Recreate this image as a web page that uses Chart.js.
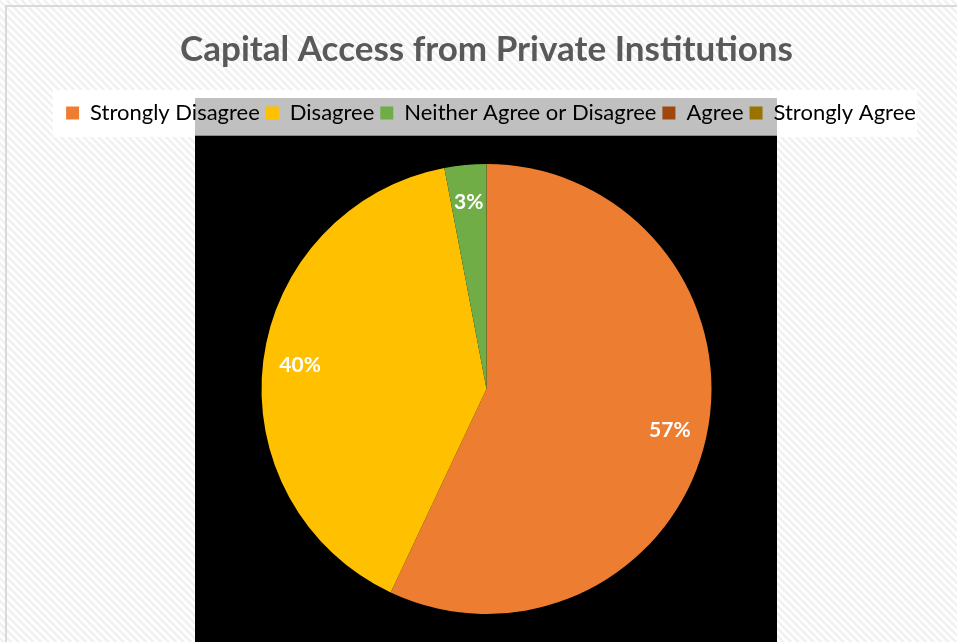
<!DOCTYPE html>
<html>
<head>
<meta charset="utf-8">
<title>Capital Access from Private Institutions</title>
<script src="https://cdn.jsdelivr.net/npm/chart.js@4"></script>
<style>
  html, body { margin: 0; padding: 0; background: #fff; overflow: hidden; }
  #wrap { position: relative; width: 957px; height: 646px; }
</style>
</head>
<body>
<div id="wrap"><canvas id="capitalChart" width="957" height="646"></canvas></div>
<script>
// --- Data ---
const categories = ['Strongly Disagree', 'Disagree', 'Neither Agree or Disagree', 'Agree', 'Strongly Agree'];
const shares = [57, 40, 3, 0, 0];
const sliceColors = ['#ED7D31', '#FFC000', '#70AD47', '#9E480E', '#997300'];
const chartTitle = 'Capital Access from Private Institutions';

const FONT = 'Lato, "Open Sans", sans-serif';
const LEGEND_SIZE = 22;
const LEGEND_PAD = 6;

// striped backdrop, frame, legend panel and the black plot panel
const backdrop = {
    id: 'backdrop',
    afterLayout(chart) {
        // nudge the legend row a little to the right
        chart.legend.left += 9;
    },
    beforeDraw(chart) {
        const c = chart.ctx;
        const w = chart.width, h = chart.height;
        c.save();
        c.fillStyle = '#ffffff';
        c.fillRect(0, 0, w, h);
        c.strokeStyle = '#f1f1f1';
        c.lineWidth = 2.5;
        c.beginPath();
        for (let k = -h; k < w + h; k += 7.5) {
            c.moveTo(k, 0);
            c.lineTo(k + h, h);
        }
        c.stroke();

        // frame
        c.strokeStyle = '#d9d9d9';
        c.lineWidth = 2;
        c.strokeRect(6, 6, w + 20, h + 20);

        // legend panel
        const lg = chart.legend;
        const ly = lg.top + LEGEND_PAD + LEGEND_SIZE / 2;
        c.fillStyle = '#ffffff';
        c.fillRect(53, ly - 23, 864, 47);

        // plot panel around the pie
        const arc = chart.getDatasetMeta(0).data[0];
        const cx = arc ? arc.x : (chart.chartArea.left + chart.chartArea.right) / 2;
        const left = Math.round(cx - 291.5), right = Math.round(cx + 290.5);
        c.fillStyle = '#c0c0c0';
        c.fillRect(left, ly - 15, right - left, 38);
        c.fillStyle = '#000000';
        c.fillRect(left, ly + 23, right - left, h);
        c.fillStyle = '#8a8a8a';
        c.fillRect(left, ly + 22, right - left, 1);
        c.restore();
    }
};

// percentage labels inside the slices
const sliceLabels = {
    id: 'sliceLabels',
    afterDatasetsDraw(chart) {
        const c = chart.ctx;
        const meta = chart.getDatasetMeta(0);
        const total = shares.reduce((a, b) => a + b, 0);
        c.save();
        c.font = 'bold 21px ' + FONT;
        c.fillStyle = '#ffffff';
        c.textAlign = 'center';
        c.textBaseline = 'middle';
        meta.data.forEach((arc, i) => {
            const v = shares[i];
            if (!v) return;
            const mid = (arc.startAngle + arc.endAngle) / 2;
            const r = arc.outerRadius * 0.835;
            c.fillText(Math.round(v / total * 100) + '%', arc.x + Math.cos(mid) * r, arc.y + Math.sin(mid) * r);
        });
        c.restore();
    }
};

const ctx = document.getElementById('capitalChart');
new Chart(ctx, {
    type: 'pie',
    data: {
        labels: categories,
        datasets: [{
            data: shares,
            backgroundColor: sliceColors,
            borderWidth: 0,
            radius: 225
        }]
    },
    options: {
        responsive: false,
        animation: false,
        maintainAspectRatio: false,
        layout: { padding: { left: 16, right: 0, top: 0, bottom: 2 } },
        plugins: {
            title: {
                display: true,
                text: chartTitle,
                color: '#595959',
                font: { family: FONT, size: 35, weight: 'bold' },
                padding: { top: 29, bottom: 25 }
            },
            legend: {
                position: 'top',
                labels: {
                    color: '#595959',
                    font: { family: FONT, size: LEGEND_SIZE },
                    boxWidth: 13,
                    boxHeight: 13,
                    padding: LEGEND_PAD,
                    generateLabels(chart) {
                        return categories.map((name, i) => ({
                            text: name,
                            fillStyle: sliceColors[i],
                            strokeStyle: sliceColors[i],
                            lineWidth: 0,
                            hidden: false,
                            index: i
                        }));
                    }
                }
            },
            tooltip: { enabled: false }
        }
    },
    plugins: [backdrop, sliceLabels]
});
</script>
</body>
</html>
